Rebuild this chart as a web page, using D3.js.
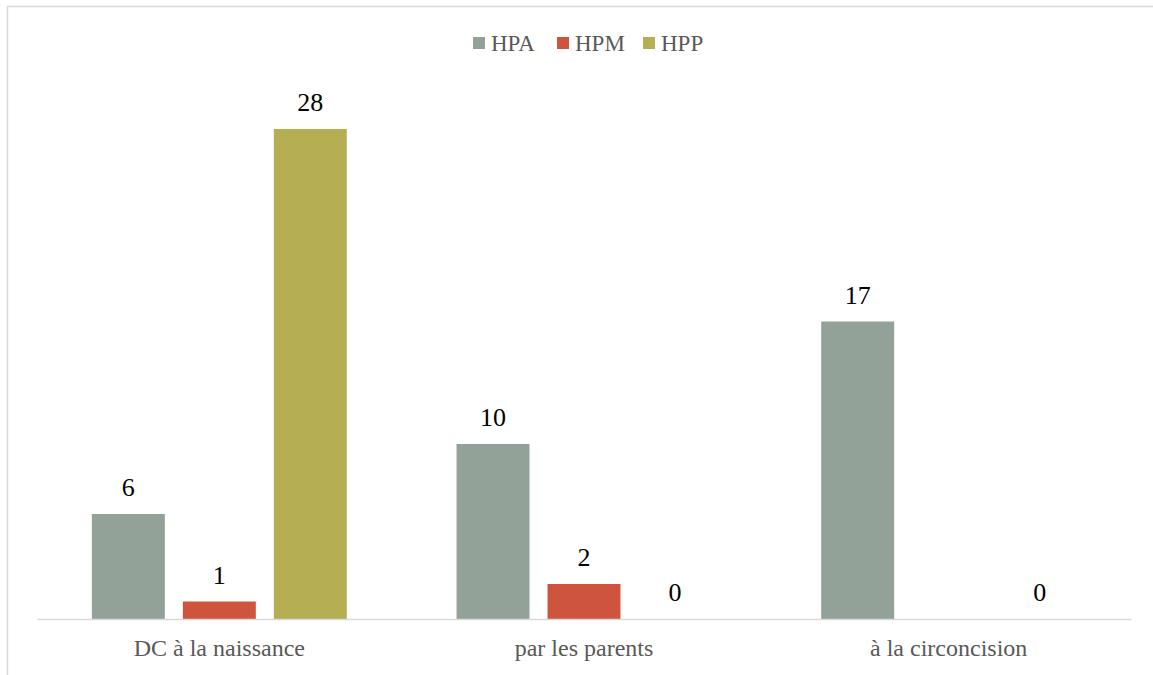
<!DOCTYPE html>
<html>
<head>
<meta charset="utf-8">
<script src="https://cdn.jsdelivr.net/npm/d3@7"></script>
<style>
  html, body { margin: 0; padding: 0; background: #fff; }
  svg { display: block; }
  svg text { font-family: "Liberation Serif", "Times New Roman", serif; }
</style>
</head>
<body>
<svg id="chart" width="1153" height="675"></svg>
<script>
// Categories, series and their values
const categories = ["DC à la naissance", "par les parents", "à la circoncision"];
const seriesNames = ["HPA", "HPM", "HPP"];
const seriesColors = ["#92A299", "#CF543E", "#B5AE52"];
const valuesHPA = [6, 10, 17];
const valuesHPM = [1, 2, null];
const valuesHPP = [28, 0, 0];

const seriesValues = [valuesHPA, valuesHPM, valuesHPP];

const width = 1153, height = 675;
const plot = { left: 37, right: 1131, top: 94, bottom: 619 };
const font = '"Liberation Serif", "Times New Roman", serif';

const svg = d3.select("#chart");

// Outer frame
svg.append("rect")
  .attr("x", 7.5).attr("y", 6.5)
  .attr("width", 1200).attr("height", 700)
  .attr("fill", "none")
  .attr("stroke", "#d9d9d9")
  .attr("stroke-width", 1.5);

const x0 = d3.scaleBand()
  .domain(categories)
  .range([plot.left, plot.right])
  .paddingInner(0).paddingOuter(0);

const x1 = d3.scaleBand()
  .domain(seriesNames)
  .range([0, x0.bandwidth()])
  .paddingInner(0.198)
  .paddingOuter(0.603);

const y = d3.scaleLinear()
  .domain([0, 30])
  .range([plot.bottom, plot.top]);

const color = d3.scaleOrdinal().domain(seriesNames).range(seriesColors);

// Flatten into drawable records
const records = [];
categories.forEach((c, i) => {
  seriesNames.forEach((s, j) => {
    const v = seriesValues[j][i];
    if (v !== null && v !== undefined) records.push({ category: c, series: s, value: v });
  });
});

// Bars
svg.append("g").selectAll("rect")
  .data(records)
  .join("rect")
  .attr("x", d => x0(d.category) + x1(d.series))
  .attr("y", d => y(d.value))
  .attr("width", x1.bandwidth())
  .attr("height", d => y(0) - y(d.value))
  .attr("fill", d => color(d.series));

// Value labels
svg.append("g").selectAll("text")
  .data(records)
  .join("text")
  .attr("x", d => x0(d.category) + x1(d.series) + x1.bandwidth() / 2)
  .attr("y", d => y(d.value) - 18)
  .attr("text-anchor", "middle")
  .style("font-family", font)
  .style("font-size", "26px")
  .attr("fill", "#000")
  .text(d => d.value);

// Category axis
const xAxis = svg.append("g")
  .attr("transform", `translate(0,${plot.bottom})`)
  .call(d3.axisBottom(x0).tickSize(0).tickPadding(0));
xAxis.attr("font-family", null).attr("font-size", null);
xAxis.select(".domain")
  .attr("stroke", "#d9d9d9")
  .attr("stroke-width", 1.5);
xAxis.selectAll(".tick text")
  .style("font-family", font)
  .style("font-size", "24px")
  .attr("fill", "#595959")
  .attr("dy", null)
  .attr("y", 37);

// Legend
const legendItems = [
  { name: "HPA", x: 473 },
  { name: "HPM", x: 557 },
  { name: "HPP", x: 643 }
];
const legend = svg.append("g");
legendItems.forEach(item => {
  legend.append("rect")
    .attr("x", item.x).attr("y", 37)
    .attr("width", 12).attr("height", 12)
    .attr("fill", color(item.name));
  legend.append("text")
    .attr("x", item.x + 18).attr("y", 51)
    .style("font-family", font)
    .style("font-size", "23px")
    .attr("fill", "#595959")
    .text(item.name);
});
</script>
</body>
</html>
